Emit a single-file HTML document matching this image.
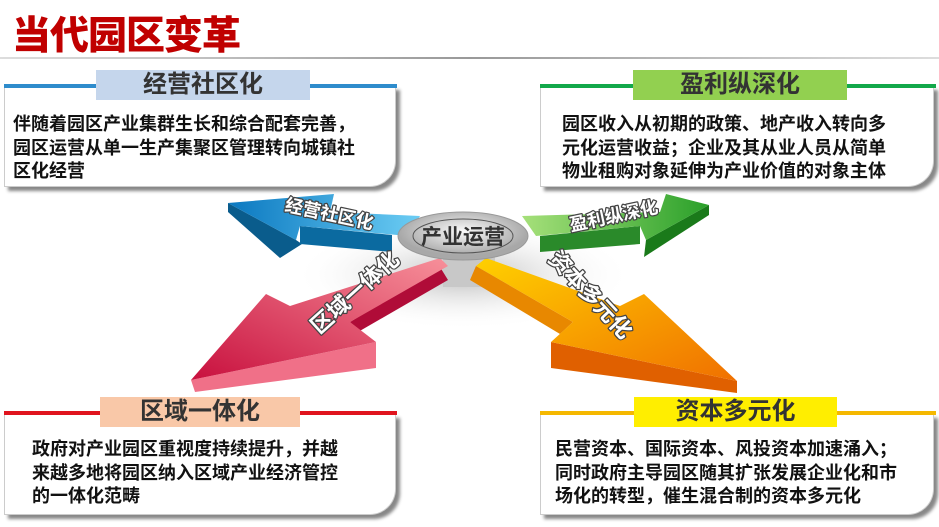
<!DOCTYPE html>
<html><head><meta charset="utf-8"><style>
body{margin:0;width:939px;height:527px;background:#fff;overflow:hidden;position:relative;font-family:"Liberation Sans","Noto Sans CJK SC",sans-serif}
.t{position:absolute;left:12px;top:5px;font-size:39px;font-weight:900;color:#c00000;letter-spacing:-1px}
.hl{position:absolute;left:0;top:57px;width:939px;height:2px;background:linear-gradient(90deg,#ddd,#999 50%,#ddd)}
.box{position:absolute;border:1px solid #ccc;border-top:none;box-shadow:4px 4px 3px #888;border-bottom-right-radius:26px;background:#fff}
.line{position:absolute;height:4px}
.lab{position:absolute;height:30px;font-size:24px;font-weight:bold;color:#333;text-align:center;line-height:30px}
.txt{position:absolute;font-size:18px;font-weight:bold;color:#111;line-height:23.5px}
</style></head><body>
<div class="t">当代园区变革</div>
<div class="hl"></div>

<div class="box" style="left:4px;top:86px;width:390px;height:100px"></div>
<div class="line" style="left:4px;top:84px;width:393px;background:#2e8ccc"></div>
<div class="lab" style="left:96px;top:70px;width:214px;background:#c5d6ec">经营社区化</div>
<div class="txt" style="left:13px;top:113px">伴随着园区产业集群生长和综合配套完善，<br>园区运营从单一生产集聚区管理转向城镇社<br>区化经营</div>

<div class="box" style="left:540px;top:86px;width:392px;height:100px"></div>
<div class="line" style="left:540px;top:84px;width:396px;background:#12a84a"></div>
<div class="lab" style="left:633px;top:70px;width:214px;background:#92d050">盈利纵深化</div>
<div class="txt" style="left:562px;top:113px">园区收入从初期的政策、地产收入转向多<br>元化运营收益；企业及其从业人员从简单<br>物业租购对象延伸为产业价值的对象主体</div>

<div class="box" style="left:4px;top:414px;width:390px;height:100px"></div>
<div class="line" style="left:4px;top:411px;width:393px;background:#e0141e"></div>
<div class="lab" style="left:100px;top:397px;width:200px;background:#f9c8a8">区域一体化</div>
<div class="txt" style="left:32px;top:438px">政府对产业园区重视度持续提升，并越<br>来越多地将园区纳入区域产业经济管控<br>的一体化范畴</div>

<div class="box" style="left:540px;top:414px;width:392px;height:100px"></div>
<div class="line" style="left:540px;top:411px;width:396px;background:#f5b800"></div>
<div class="lab" style="left:634px;top:397px;width:203px;background:#ffee00">资本多元化</div>
<div class="txt" style="left:555px;top:438px">民营资本、国际资本、风投资本加速涌入；<br>同时政府主导园区随其扩张发展企业化和市<br>场化的转型，催生混合制的资本多元化</div>

<svg style="position:absolute;left:0;top:0" width="939" height="527">
<defs>
<linearGradient id="b" x1="0" x2="1"><stop offset="0" stop-color="#0a78c0"/><stop offset="1" stop-color="#6ccdf4"/></linearGradient>
<linearGradient id="g" x1="0" x2="1"><stop offset="0" stop-color="#a6e07a"/><stop offset="1" stop-color="#2aa02a"/></linearGradient>
<linearGradient id="r" x1="0" y1="1" x2="1" y2="0"><stop offset="0" stop-color="#c8103e"/><stop offset="1" stop-color="#f7909a"/></linearGradient>
<linearGradient id="o" x1="0" y1="0" x2="1" y2="1"><stop offset="0" stop-color="#ffd000"/><stop offset="1" stop-color="#f07000"/></linearGradient>
<radialGradient id="e" cx=".5" cy=".4"><stop offset="0" stop-color="#fafafa"/><stop offset="1" stop-color="#a8a8a8"/></radialGradient>
<radialGradient id="sh" cx=".5" cy=".5"><stop offset="0" stop-color="#bbb"/><stop offset="1" stop-color="#fff" stop-opacity="0"/></radialGradient>
</defs>
<ellipse cx="463" cy="275" rx="170" ry="55" fill="url(#sh)"/>
<polygon points="228,203 296,240 302,244 280,258 228,212" fill="#0a5c8c"/>
<polygon points="300,226 392,235 392,252 300,244" fill="#0b6aa0"/>
<polygon points="228,203 334,194 330,212 420,216 408,236 300,226 296,240" fill="url(#b)"/>
<polygon points="709,205 646,240 644,257 709,215" fill="#1a7a1a"/>
<polygon points="540,236 640,226 640,244 540,252" fill="#2a8a2a"/>
<polygon points="709,205 666,194 660,212 522,216 536,236 640,226 646,240" fill="url(#g)"/>
<rect x="443" y="245" width="52" height="42" fill="#c8c8c8"/>
<polygon points="191,380 376,342 376,368 195,392" fill="#f07088"/>
<polygon points="440,267 448,280 358,332 350,322" fill="#b00c38"/>
<polygon points="191,380 266,294 290,306 440,258 448,266 350,322 376,342" fill="url(#r)"/>
<polygon points="737,381 551,342 551,368 737,393" fill="#e06000"/>
<polygon points="476,266 470,280 560,334 573,322" fill="#e88800"/>
<polygon points="737,381 644,294 620,306 486,258 476,266 573,322 551,342" fill="url(#o)"/>
<ellipse cx="463" cy="236" rx="65" ry="24" fill="url(#e)" stroke="#999"/>
<ellipse cx="463" cy="236" rx="50" ry="17" fill="none" stroke="#555"/>
<text x="463" y="244" text-anchor="middle" font-size="21" font-weight="bold" fill="#333" font-family="Liberation Sans,Noto Sans CJK SC,sans-serif">产业运营</text>
<g font-family="Liberation Sans,Noto Sans CJK SC,sans-serif" font-weight="bold" fill="#fff" stroke="#444" stroke-width="2.5" paint-order="stroke" stroke-linejoin="round">
<text x="328" y="220" font-size="18" text-anchor="middle" transform="rotate(12 328 220)">经营社区化</text>
<text x="615" y="222" font-size="18" text-anchor="middle" transform="rotate(-12 615 222)">盈利纵深化</text>
<text x="360" y="298" font-size="22" text-anchor="middle" transform="rotate(-42 360 298)">区域一体化</text>
<text x="585" y="300" font-size="22" text-anchor="middle" transform="rotate(47 585 300)">资本多元化</text>
</g>
</svg>
</body></html>
